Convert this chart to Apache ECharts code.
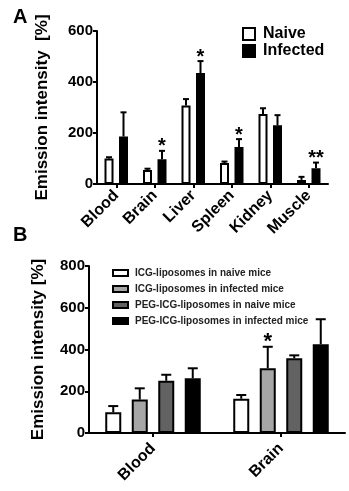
<!DOCTYPE html>
<html>
<head>
<meta charset="utf-8">
<script src="https://cdn.jsdelivr.net/npm/echarts@6/dist/echarts.min.js"></script>
<style>
html, body { margin: 0; padding: 0; background: #fff; }
#chart { width: 349px; height: 491px; }
</style>
</head>
<body>
<div id="chart"></div>
<script>
// 数据：A 图（各器官）
var organs = ['Blood', 'Brain', 'Liver', 'Spleen', 'Kidney', 'Muscle'];
var naive = [100, 55, 308, 82, 275, 16];
var naiveErr = [5, 5, 25, 6, 22, 12];
var infected = [186, 97, 435, 145, 230, 62];
var infectedErr = [95, 33, 47, 31, 40, 22];
var infectedSig = ['', '*', '*', '*', '', '**'];

// 数据：B 图（脂质体）
var tissues = ['Blood', 'Brain'];
var groupNames = ['ICG-liposomes in naive mice', 'ICG-liposomes in infected mice',
	'PEG-ICG-liposomes in naive mice', 'PEG-ICG-liposomes in infected mice'];
var groupColors = ['#ffffff', '#a6a6a6', '#626262', '#000000'];
var icgNaive = [99, 164];
var icgNaiveErr = [30, 18];
var icgInfected = [160, 310];
var icgInfectedErr = [54, 103];
var pegNaive = [250, 358];
var pegNaiveErr = [29, 14];
var pegInfected = [262, 425];
var pegInfectedErr = [48, 120];
var sigB = [['', ''], ['', '*'], ['', ''], ['', '']];

var FONT = "'Liberation Sans', Arial, sans-serif";

// 柱宽和间距（像素）
var barWA = 9, gapA = 5.5;
var barWB = 16, gapB = 10.5;

function offsets(n, w, g){
	var step = w + g, res = [];
	for(var i = 0; i < n; i++){
		res.push((i - (n - 1) / 2) * step);
	}
	return res;
}
var offA = offsets(2, barWA, gapA);
var offB = offsets(4, barWB, gapB);

/*
 * 误差线 + 显著性星号
 */
function errSeries(axisIdx, values, errs, sigs, dx, capW, starSize){
	var data = [];
	for(var i = 0; i < values.length; i++){
		data.push([i, values[i], errs[i], sigs[i] || '']);
	}
	return {
		type: 'custom',
		xAxisIndex: axisIdx,
		yAxisIndex: axisIdx,
		z: 5,
		silent: true,
		data: data,
		renderItem: function(params, api){
			var p0 = api.coord([api.value(0), api.value(1)]);
			var p1 = api.coord([api.value(0), api.value(1) + api.value(2)]);
			var x = p0[0] + dx;
			var children = [
				{type: 'line', shape: {x1: x, y1: p0[1], x2: x, y2: p1[1]}, style: {stroke: '#000', lineWidth: 2}},
				{type: 'line', shape: {x1: x - capW / 2, y1: p1[1], x2: x + capW / 2, y2: p1[1]}, style: {stroke: '#000', lineWidth: 2}}
			];
			var s = data[params.dataIndex][3];
			if(s){
				children.push({
					type: 'text',
					style: {
						text: s, x: x, y: p1[1] + starSize * 0.3,
						align: 'center', verticalAlign: 'bottom',
						fill: '#000', font: 'bold ' + starSize + 'px ' + FONT
					}
				});
			}
			return {type: 'group', children: children};
		}
	};
}

var axisLineStyle = {lineStyle: {color: '#000', width: 2}};
var tickStyle = {show: true, length: 4, lineStyle: {color: '#000', width: 2}};
var labelStyle = {color: '#000', fontWeight: 'bold', fontFamily: FONT};

var option = {
	animation: false,
	title: [
		{text: 'A', left: 8, top: 2, textStyle: {fontSize: 20, fontWeight: 'bold', fontFamily: FONT, color: '#000'}},
		{text: 'B', left: 8, top: 220, textStyle: {fontSize: 20, fontWeight: 'bold', fontFamily: FONT, color: '#000'}}
	],
	legend: [
		{
			data: ['Naive', 'Infected'],
			orient: 'vertical',
			left: 242, top: 26, padding: 0,
			itemWidth: 12, itemHeight: 12, itemGap: 1,
			icon: 'rect',
			selectedMode: false,
			textStyle: {fontSize: 16, fontWeight: 'bold', fontFamily: FONT, color: '#000', padding: [0, 0, 0, 3]}
		},
		{
			data: groupNames,
			orient: 'vertical',
			left: 112, top: 268, padding: 0,
			itemWidth: 15, itemHeight: 6, itemGap: 6,
			icon: 'rect',
			selectedMode: false,
			textStyle: {fontSize: 10, fontWeight: 'bold', fontFamily: FONT, color: '#222', padding: [0, 0, 0, 2]}
		}
	],
	grid: [
		{left: 97, right: 21, top: 31, height: 153},
		{left: 89, right: 4, top: 266, height: 167}
	],
	xAxis: [
		{
			type: 'category', gridIndex: 0, data: organs,
			axisLine: axisLineStyle,
			axisTick: {show: true, length: 4, alignWithLabel: true, lineStyle: {color: '#000', width: 2}},
			axisLabel: Object.assign({rotate: 45, fontSize: 16, margin: 9, interval: 0}, labelStyle)
		},
		{
			type: 'category', gridIndex: 1, data: tissues,
			axisLine: axisLineStyle,
			axisTick: {show: true, length: 4, alignWithLabel: true, lineStyle: {color: '#000', width: 2}},
			axisLabel: Object.assign({rotate: 45, fontSize: 16, margin: 13, interval: 0}, labelStyle)
		}
	],
	yAxis: [
		{
			type: 'value', gridIndex: 0, min: 0, max: 600, interval: 200,
			name: 'Emission intensity  [%]', nameLocation: 'middle', nameGap: 46,
			nameTextStyle: {fontSize: 17, fontWeight: 'bold', fontFamily: FONT, color: '#000'},
			axisLine: {show: true, lineStyle: {color: '#000', width: 2}},
			axisTick: tickStyle,
			splitLine: {show: false},
			axisLabel: Object.assign({fontSize: 15, margin: 4}, labelStyle)
		},
		{
			type: 'value', gridIndex: 1, min: 0, max: 800, interval: 200,
			name: 'Emission intensity [%]', nameLocation: 'middle', nameGap: 42,
			nameTextStyle: {fontSize: 17, fontWeight: 'bold', fontFamily: FONT, color: '#000'},
			axisLine: {show: true, lineStyle: {color: '#000', width: 2}},
			axisTick: tickStyle,
			splitLine: {show: false},
			axisLabel: Object.assign({fontSize: 15, margin: 4}, labelStyle)
		}
	],
	series: [
		{
			name: 'Naive', type: 'bar', xAxisIndex: 0, yAxisIndex: 0, data: naive,
			barWidth: barWA, barGap: (gapA / barWA * 100) + '%',
			itemStyle: {color: '#fff', borderColor: '#000', borderWidth: 2}
		},
		{
			name: 'Infected', type: 'bar', xAxisIndex: 0, yAxisIndex: 0, data: infected,
			barWidth: barWA, barGap: (gapA / barWA * 100) + '%',
			itemStyle: {color: '#000', borderColor: '#000', borderWidth: 2}
		},
		errSeries(0, naive, naiveErr, [], offA[0], 6, 20),
		errSeries(0, infected, infectedErr, infectedSig, offA[1], 6, 20)
	]
};

var valsB = [icgNaive, icgInfected, pegNaive, pegInfected];
var errsB = [icgNaiveErr, icgInfectedErr, pegNaiveErr, pegInfectedErr];
for(var i = 0; i < 4; i++){
	option.series.push({
		name: groupNames[i], type: 'bar', xAxisIndex: 1, yAxisIndex: 1, data: valsB[i],
		barWidth: barWB, barGap: (gapB / barWB * 100) + '%',
		itemStyle: {color: groupColors[i], borderColor: '#000', borderWidth: 2}
	});
}
for(var j = 0; j < 4; j++){
	option.series.push(errSeries(1, valsB[j], errsB[j], sigB[j], offB[j], 10, 22));
}

var chart = echarts.init(document.getElementById('chart'));
chart.setOption(option);
</script>
</body>
</html>
